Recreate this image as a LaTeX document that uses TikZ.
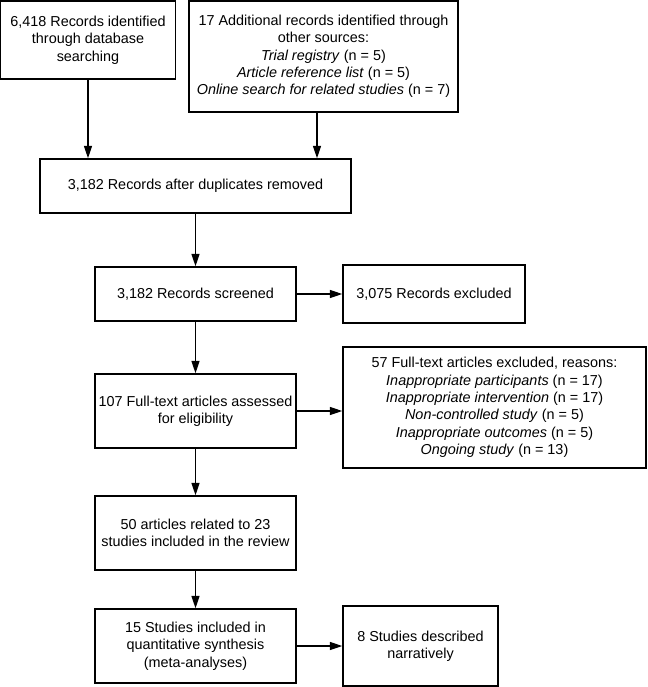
\documentclass[tikz,border=0pt]{standalone}
\usepackage{fontspec}
\setmainfont{Liberation Sans}
\usetikzlibrary{arrows.meta}
\begin{document}
\begin{tikzpicture}[x=1pt,y=-1pt,
  box/.style={draw=black,line width=1.4pt,rectangle,align=center,inner sep=0pt,
    font=\fontsize{14.4}{17.3}\selectfont},
  arr/.style={line width=1.4pt,-{Triangle[length=12.5pt,width=8pt]}}]
\useasboundingbox (0,0) rectangle (647,687);
\node[box,minimum width=175pt,minimum height=78pt] (b1) at (88,40) {6,418 Records identified\\through database\\searching};
\node[box,minimum width=269pt,minimum height=111pt] (b2) at (323.5,56.5) {17 Additional records identified through\\other sources:\\\textit{Trial registry} (n = 5)\\\textit{Article reference list} (n = 5)\\\textit{Online search for related studies} (n = 7)};
\node[box,minimum width=311pt,minimum height=54pt] (b3) at (195.5,186) {3,182 Records after duplicates removed};
\node[box,minimum width=201pt,minimum height=54pt] (b4) at (195.5,294) {3,182 Records screened};
\node[box,minimum width=182pt,minimum height=58pt] (b5) at (434,294) {3,075 Records excluded};
\node[box,minimum width=201pt,minimum height=74pt] (b6) at (195.5,411) {107 Full-text articles assessed\\for eligibility};
\node[box,minimum width=303pt,minimum height=121pt] (b7) at (494.5,407.5) {57 Full-text articles excluded, reasons:\\\textit{Inappropriate participants} (n = 17)\\\textit{Inappropriate intervention} (n = 17)\\\textit{Non-controlled study} (n = 5)\\\textit{Inappropriate outcomes} (n = 5)\\\textit{Ongoing study} (n = 13)};
\node[box,minimum width=201pt,minimum height=74pt] (b8) at (195.5,533) {50 articles related to 23\\studies included in the review};
\node[box,minimum width=201pt,minimum height=74pt] (b9) at (195.5,646) {15 Studies included in\\quantitative synthesis\\(meta-analyses)};
\node[box,minimum width=155pt,minimum height=80pt] (b10) at (420.5,646) {8 Studies described\\narratively};
\draw[arr] (b1.south) -- (b1.south |- b3.north);
\draw[arr] ([xshift=-6.5pt]b2.south) -- ([xshift=-6.5pt]b2.south |- b3.north);
\draw[arr] (b3.south) -- (b4.north);
\draw[arr] (b4.east) -- (b4.east -| b5.west);
\draw[arr] (b4.south) -- (b6.north);
\draw[arr] (b6.east) -- (b6.east -| b7.west);
\draw[arr] (b6.south) -- (b8.north);
\draw[arr] (b8.south) -- (b9.north);
\draw[arr] (b9.east) -- (b9.east -| b10.west);
\end{tikzpicture}
\end{document}
